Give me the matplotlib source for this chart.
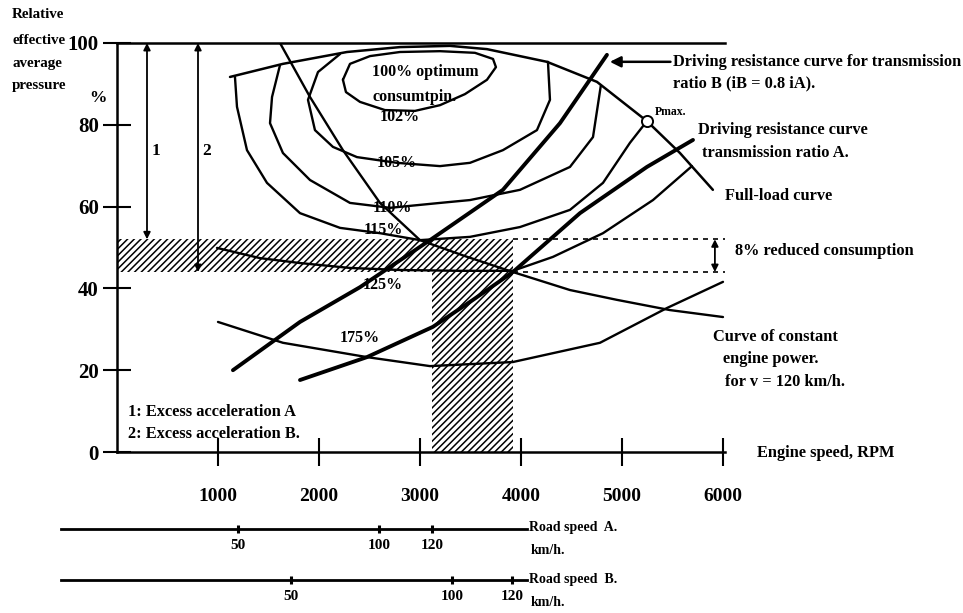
import matplotlib.pyplot as plt

plt.rcParams['font.family'] = ['Liberation Serif', 'DejaVu Serif']
plt.rcParams['font.weight'] = 'bold'
plt.rcParams['hatch.linewidth'] = 1.1

# axis ticks
rpm_ticks = [1000, 2000, 3000, 4000, 5000, 6000]
p_ticks = [0, 20, 40, 60, 80, 100]

# full-load curve, relative pressure (%) vs engine speed (RPM)
full_rpm = [1119, 1643, 2277, 2802, 3297, 3663, 4257, 4752, 5247, 5574, 5900]
full_p = [91.7, 94.9, 97.8, 99.0, 99.3, 98.5, 95.4, 90.5, 80.9, 73.1, 64.1]
pmax_rpm, pmax_p = 5247, 80.9

# iso-consumption lines
opt_rpm = [2237, 2307, 2505, 2802, 3198, 3544, 3723, 3752, 3663, 3445, 3198, 2950, 2653, 2406, 2267, 2237]
opt_p = [91.0, 94.9, 96.8, 97.8, 98.0, 97.6, 96.1, 94.1, 91.0, 87.5, 84.8, 83.4, 83.6, 85.6, 88.0, 91.0]

iso105_rpm = [2208, 1990, 1891, 1960, 2138, 2376, 2772, 3198, 3495, 3821, 4158, 4287, 4267]
iso105_p = [97.3, 92.9, 86.1, 78.7, 74.6, 72.1, 70.7, 69.9, 70.7, 73.8, 78.7, 86.1, 95.4]

iso110_rpm = [1614, 1535, 1515, 1643, 1911, 2307, 2703, 3198, 3495, 3990, 4485, 4713, 4790]
iso110_p = [94.6, 86.8, 80.4, 73.1, 66.5, 60.9, 59.7, 60.9, 61.6, 64.1, 69.7, 77.0, 89.5]

iso115_rpm = [1168, 1188, 1287, 1485, 1812, 2208, 2604, 3000, 3495, 3990, 4485, 4812, 5079, 5247]
iso115_p = [91.7, 84.4, 73.8, 65.8, 58.4, 54.8, 53.5, 51.8, 52.6, 55.0, 59.2, 65.8, 75.6, 80.9]

iso125_rpm = [990, 1416, 1812, 2307, 2802, 3396, 3920, 4316, 4812, 5307, 5693]
iso125_p = [49.9, 47.4, 46.2, 45.0, 44.5, 44.3, 44.3, 47.7, 53.5, 61.6, 69.9]

iso175_rpm = [1000, 1643, 2475, 3099, 3920, 4782, 5445, 6000]
iso175_p = [31.8, 26.7, 23.2, 21.0, 22.0, 26.7, 35.2, 41.6]

iso_labels = ['102%', '105%', '110%', '115%', '125%', '175%']
iso_label_rpm = [2802, 2772, 2723, 2634, 2634, 2406]
iso_label_p = [81.9, 70.7, 59.7, 54.3, 40.8, 27.9]

# constant engine power for v = 120 km/h
power_rpm = [1614, 1911, 2237, 2604, 3000, 3445, 3920, 4485, 4950, 5475, 6000]
power_p = [100, 86.8, 73.8, 60.9, 51.8, 47.9, 44.0, 39.6, 37.2, 34.7, 33.0]

# driving resistance curves
drive_a_rpm = [1812, 2475, 3128, 3525, 3920, 4584, 5247, 5703]
drive_a_p = [17.6, 23.2, 30.6, 37.2, 44.0, 58.4, 69.7, 76.3]
drive_b_rpm = [1148, 1812, 2406, 3099, 3821, 4386, 4851]
drive_b_p = [20.0, 31.8, 40.3, 51.8, 64.1, 80.4, 97.1]

# operating points at 120 km/h
rpm_op_a, rpm_op_b = 3120, 3920
p_op_a, p_op_b = 52, 44
excess_rpm = [297, 802]

# road speed scales
road_kmh = [50, 100, 120]
road_a_rpm = [1198, 2594, 3119]
road_b_rpm = [1723, 3317, 3911]

W, H = 963, 613
fig = plt.figure(figsize=(W / 100, H / 100), dpi=100)


def box(x0, y0, x1, y1):
    return [x0 / W, 1 - y1 / H, (x1 - x0) / W, (y1 - y0) / H]


def label(px, py, s, **kw):
    kw.setdefault('ha', 'left')
    kw.setdefault('va', 'center')
    fig.text(px / W, 1 - py / H, s, **kw)


ax = fig.add_axes(box(117, 43, 725, 452))
ax.set_xlim(0, 6020)
ax.set_ylim(0, 100)
for side in ['left', 'bottom', 'top']:
    ax.spines[side].set_linewidth(1.8)
ax.spines['right'].set_visible(False)
ax.set_xticks(rpm_ticks)
ax.set_yticks(p_ticks)
ax.tick_params(axis='x', direction='inout', length=20, width=1.5, labelsize=14, pad=16)
ax.tick_params(axis='y', direction='inout', length=20, width=1.5, labelsize=15, pad=3)

# hatched operating region
ax.fill([0, 0, rpm_op_b, rpm_op_b, rpm_op_a, rpm_op_a],
        [p_op_b, p_op_a, p_op_a, 0, 0, p_op_b],
        facecolor='none', edgecolor='black', hatch='/////', linewidth=0)
ax.hlines([p_op_a, p_op_b], rpm_op_b, 6020, colors='black', linestyles=(0, (3, 3)), lw=1.2)

line = dict(color='black', solid_joinstyle='round', solid_capstyle='round')
ax.plot(opt_rpm, opt_p, lw=1.7, **line)
ax.plot(iso105_rpm, iso105_p, lw=1.7, **line)
ax.plot(iso110_rpm, iso110_p, lw=1.7, **line)
ax.plot(iso115_rpm, iso115_p, lw=1.7, **line)
ax.plot(iso125_rpm, iso125_p, lw=1.7, **line)
ax.plot(iso175_rpm, iso175_p, lw=1.7, **line)
ax.plot(power_rpm, power_p, lw=1.7, **line)
ax.plot(full_rpm, full_p, lw=1.8, **line)
ax.plot(drive_a_rpm, drive_a_p, lw=2.8, **line)
ax.plot(drive_b_rpm, drive_b_p, lw=2.8, **line)
ax.plot(pmax_rpm, pmax_p, 'o', ms=8, mfc='white', mec='black', mew=1.4)

for s, x, y in zip(iso_labels, iso_label_rpm, iso_label_p):
    ax.text(x, y, s, fontsize=11.5, ha='center', va='center')
ax.text(2525, 92.9, '100% optimum', fontsize=11.5, va='center')
ax.text(2525, 86.8, 'consumtpin.', fontsize=11.5, va='center')

# excess acceleration arrows
arr = dict(arrowstyle='<|-|>', lw=1.3, color='black', mutation_scale=10, shrinkA=0, shrinkB=0)
ax.annotate('', xy=(excess_rpm[0], p_op_a), xytext=(excess_rpm[0], 100), arrowprops=arr)
ax.annotate('', xy=(excess_rpm[1], p_op_b), xytext=(excess_rpm[1], 100), arrowprops=arr)
ax.text(385, 73.5, '1', fontsize=12.5, ha='center', va='center')
ax.text(890, 73.5, '2', fontsize=12.5, ha='center', va='center')
ax.annotate('', xy=(5920, p_op_b), xytext=(5920, p_op_a), arrowprops=arr)
ax.annotate('', xy=(4880, 95.4), xytext=(5480, 95.4),
            arrowprops=dict(arrowstyle='-|>', lw=1.8, color='black', mutation_scale=16,
                            shrinkA=0, shrinkB=0))

# annotations
fs = 11.8
label(12, 15, 'Relative', fontsize=10.8)
label(12, 41, 'effective', fontsize=10.8)
label(12, 63, 'average', fontsize=10.8)
label(12, 86, 'pressure', fontsize=10.8)
label(89, 98, '%', fontsize=12.5)
label(673, 62, 'Driving resistance curve for transmission', fontsize=fs)
label(673, 83, 'ratio B (iB = 0.8 iA).', fontsize=fs)
label(655, 112, 'Pmax.', fontsize=8.5)
label(698, 130, 'Driving resistance curve', fontsize=fs)
label(702, 153, 'transmission ratio A.', fontsize=fs)
label(725, 196, 'Full-load curve', fontsize=fs)
label(735, 251, '8% reduced consumption', fontsize=fs)
label(713, 337, 'Curve of constant', fontsize=fs)
label(723, 359, 'engine power.', fontsize=fs)
label(725, 382, 'for v = 120 km/h.', fontsize=fs)
label(757, 453, 'Engine speed, RPM', fontsize=fs)
label(128, 412, '1: Excess acceleration A', fontsize=fs)
label(128, 434, '2: Excess acceleration B.', fontsize=fs)


# road speed scales drawn with the same RPM mapping as the main axis
def rpm_at(px):
    return (px - 117) * 6020 / 608


for py, rpms, name in [(529, road_a_rpm, 'A.'), (580, road_b_rpm, 'B.')]:
    rax = fig.add_axes(box(61, py - 1, 527, py))
    rax.set_xlim(rpm_at(61), rpm_at(527))
    rax.patch.set_visible(False)
    for side in ['left', 'right', 'top']:
        rax.spines[side].set_visible(False)
    rax.spines['bottom'].set_linewidth(2)
    rax.set_yticks([])
    rax.set_xticks(rpms)
    rax.set_xticklabels([str(v) for v in road_kmh])
    rax.tick_params(axis='x', direction='inout', length=6, width=2.2, labelsize=11, pad=4)
    label(529, py - 1, 'Road speed  ' + name, fontsize=10)
    label(531, py + 22, 'km/h.', fontsize=10)

fig.savefig('out.png', dpi=100)
